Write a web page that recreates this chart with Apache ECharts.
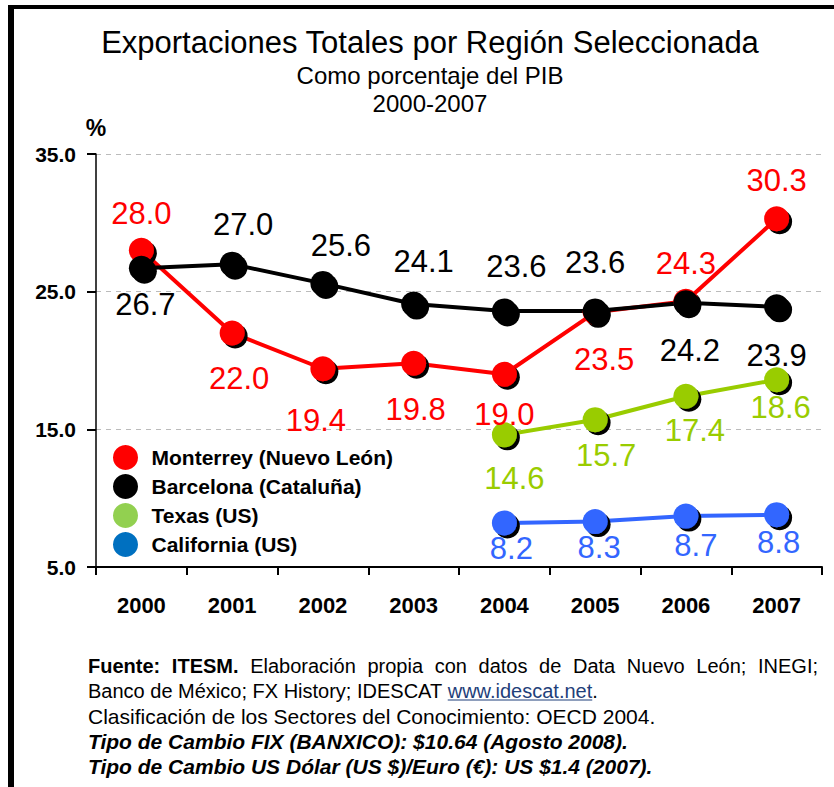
<!DOCTYPE html>
<html><head><meta charset="utf-8">
<script src="https://cdn.jsdelivr.net/npm/echarts@6/dist/echarts.min.js"></script>
<style>html,body{margin:0;padding:0;background:#fff}#c{width:834px;height:787px}</style>
</head><body><div id="c"></div>
<script>
// ---- data ----
const years = ['2000','2001','2002','2003','2004','2005','2006','2007'];
const monterrey = [28.0, 22.0, 19.4, 19.8, 19.0, 23.5, 24.3, 30.3];
const barcelona = [26.7, 27.0, 25.6, 24.1, 23.6, 23.6, 24.2, 23.9];
const texas = [null, null, null, null, 14.6, 15.7, 17.4, 18.6];
const california = [null, null, null, null, 8.2, 8.3, 8.7, 8.8];
const seriesNames = ['Monterrey (Nuevo León)', 'Barcelona (Cataluña)', 'Texas (US)', 'California (US)'];
const yMin = 5, yMax = 35, yStep = 10;

// ---- layout (label offsets from marker centre) ----
const offMonterrey = [[0,-37],[7,46],[-7,52],[2,46],[0,40],[9,47],[0,-38],[0,-38]];
const offBarcelona = [[4,36],[11,-40],[18,-38],[10,-43],[12,-44],[0,-48],[4,48],[0,49]];
const offTexas = [null,null,null,null,[10,44],[11,36],[9,34],[4,28]];
const offCalifornia = [null,null,null,null,[7,26],[4,26],[10,29],[2,28]];

const lineColors = ['#FF0000', '#000000', '#99CC00', '#3366FF'];
const legendColors = ['#FF0000', '#000000', '#92D050', '#0070C0'];
const SANS = '"Liberation Sans", Arial, sans-serif';

function buildData(vals, offs) {
  return vals.map((v, i) => v == null ? null : ({
    value: v,
    label: { offset: offs[i] }
  }));
}

function mkSeries(name, vals, offs, color) {
  return {
    name: name,
    type: 'line',
    data: buildData(vals, offs),
    symbol: 'circle',
    symbolSize: 25,
    connectNulls: false,
    lineStyle: { color: color, width: 4 },
    itemStyle: { color: color, shadowColor: '#000', shadowOffsetX: 3, shadowOffsetY: 3, shadowBlur: 0 },
    label: {
      show: true,
      position: 'inside',
      formatter: p => p.value.toFixed(1),
      color: color,
      fontFamily: SANS,
      fontSize: 31,
      align: 'center',
      verticalAlign: 'middle'
    },
    emphasis: { disabled: true },
    animation: false
  };
}

// ---- text measuring for footer ----
const mctx = document.createElement('canvas').getContext('2d');
function tw(text, font) { mctx.font = font; return mctx.measureText(text).width; }

const footX = 88, footRight = 818;
const fReg = '20px ' + SANS;
const fBold = 'bold 20px ' + SANS;
const fReg21 = '21px ' + SANS;
const fBI = 'italic bold 21px ' + SANS;
const footY = [666, 691, 716, 741, 766];

const graphics = [];
// border
graphics.push({ type: 'rect', shape: { x: 8, y: 5, width: 826, height: 4 }, style: { fill: '#000' }, silent: true });
graphics.push({ type: 'rect', shape: { x: 8, y: 5, width: 6, height: 782 }, style: { fill: '#000' }, silent: true });

// titles
const titleLines = [
  ['Exportaciones Totales por Región Seleccionada', 31, 42],
  ['Como porcentaje del PIB', 24, 75],
  ['2000-2007', 24, 103]
];
titleLines.forEach(t => graphics.push({
  type: 'text', x: 430, y: t[2], silent: true,
  style: { text: t[0], fontFamily: SANS, fontSize: t[1], fill: '#000', align: 'center', verticalAlign: 'middle' }
}));

// footer line 1 (justified)
const line1 = [['Fuente:', fBold], ['ITESM.', fBold], ['Elaboración', fReg], ['propia', fReg], ['con', fReg],
  ['datos', fReg], ['de', fReg], ['Data', fReg], ['Nuevo', fReg], ['León;', fReg], ['INEGI;', fReg]];
let wsum = 0; line1.forEach(w => { wsum += tw(w[0], w[1]); });
const gap = (footRight - footX - wsum) / (line1.length - 1);
let cx = footX;
line1.forEach(w => {
  graphics.push({ type: 'text', x: cx, y: footY[0], silent: true,
    style: { text: w[0], font: w[1], fill: '#000', align: 'left', verticalAlign: 'middle' } });
  cx += tw(w[0], w[1]) + gap;
});
// footer line 2 with link
const l2a = 'Banco de México; FX History; IDESCAT ';
const l2b = 'www.idescat.net';
const l2c = '.';
const wa = tw(l2a, fReg), wb = tw(l2b, fReg);
graphics.push({ type: 'text', x: footX, y: footY[1], silent: true, style: { text: l2a, font: fReg, fill: '#000', verticalAlign: 'middle' } });
graphics.push({ type: 'text', x: footX + wa, y: footY[1], silent: true, style: { text: l2b, font: fReg, fill: '#1F3F7A', verticalAlign: 'middle' } });
graphics.push({ type: 'line', silent: true, shape: { x1: footX + wa, y1: footY[1] + 9, x2: footX + wa + wb, y2: footY[1] + 9 }, style: { stroke: '#1F3F7A', lineWidth: 1.2 } });
graphics.push({ type: 'text', x: footX + wa + wb, y: footY[1], silent: true, style: { text: l2c, font: fReg, fill: '#000', verticalAlign: 'middle' } });
graphics.push({ type: 'text', x: footX, y: footY[2], silent: true, style: { text: 'Clasificación de los Sectores del Conocimiento: OECD 2004.', font: fReg21, fill: '#000', verticalAlign: 'middle' } });
graphics.push({ type: 'text', x: footX, y: footY[3], silent: true, style: { text: 'Tipo de Cambio FIX (BANXICO): $10.64 (Agosto 2008).', font: fBI, fill: '#000', verticalAlign: 'middle' } });
graphics.push({ type: 'text', x: footX, y: footY[4], silent: true, style: { text: 'Tipo de Cambio US Dólar (US $)/Euro (€): US $1.4 (2007).', font: fBI, fill: '#000', verticalAlign: 'middle' } });

const chart = echarts.init(document.getElementById('c'), null, { renderer: 'svg' });
chart.setOption({
  backgroundColor: '#fff',
  animation: false,
  grid: { left: 96, right: 12, top: 154, bottom: 220, containLabel: false },
  xAxis: {
    type: 'category',
    data: years,
    boundaryGap: true,
    axisLine: { lineStyle: { color: '#000', width: 2 } },
    axisTick: { show: true, length: 8, lineStyle: { color: '#000', width: 2 } },
    axisLabel: { color: '#000', fontFamily: SANS, fontWeight: 'bold', fontSize: 22, margin: 27 },
    splitLine: { show: false }
  },
  yAxis: {
    type: 'value',
    min: yMin, max: yMax, interval: yStep,
    name: '%',
    nameLocation: 'end',
    nameGap: 15,
    nameTextStyle: { color: '#000', fontFamily: SANS, fontWeight: 'bold', fontSize: 23, align: 'center' },
    axisLine: { show: true, lineStyle: { color: '#000', width: 1.5 } },
    axisTick: { show: true, length: 9, lineStyle: { color: '#000', width: 2 } },
    axisLabel: { color: '#000', fontFamily: SANS, fontWeight: 'bold', fontSize: 21, margin: 20, formatter: v => v.toFixed(1) },
    splitLine: { show: true, lineStyle: { color: '#BBBBBB', width: 1.2, type: [5, 5] } }
  },
  legend: {
    orient: 'vertical',
    left: 113,
    top: 433,
    padding: [12, 10, 4, 0],
    backgroundColor: '#fff',
    itemWidth: 42,
    itemHeight: 25,
    itemGap: 4,
    icon: 'circle',
    selectedMode: false,
    textStyle: { color: '#000', fontFamily: SANS, fontWeight: 'bold', fontSize: 21 },
    data: seriesNames.map((n, i) => ({ name: n, icon: 'circle', itemStyle: { color: legendColors[i], shadowColor: 'transparent', shadowOffsetX: 0, shadowOffsetY: 0 } }))
  },
  graphic: graphics,
  series: [
    mkSeries(seriesNames[0], monterrey, offMonterrey, lineColors[0]),
    mkSeries(seriesNames[1], barcelona, offBarcelona, lineColors[1]),
    mkSeries(seriesNames[2], texas, offTexas, lineColors[2]),
    mkSeries(seriesNames[3], california, offCalifornia, lineColors[3])
  ]
});
</script>
</body></html>
